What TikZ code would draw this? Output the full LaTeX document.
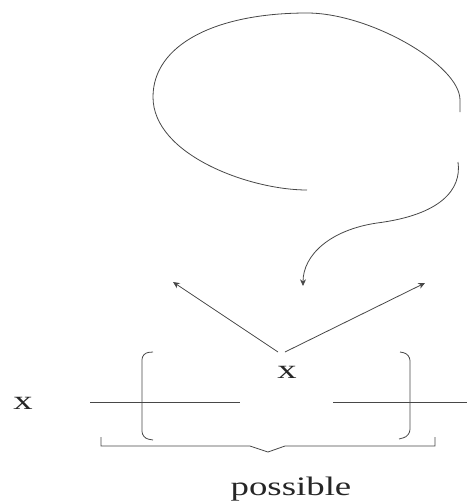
\documentclass[tikz,border=0pt]{standalone}
\usepackage{fontspec}
\setmainfont{Liberation Serif}
\usetikzlibrary{arrows.meta}
\begin{document}
\begin{tikzpicture}[x=0.75pt,y=-0.75pt,
  ln/.style={line width=0.6pt,draw=black!72},
  arr/.style={ln,-{Stealth[length=5pt,width=4.5pt]}},
  lbl/.style={inner sep=0pt,font=\fontsize{20}{24}\selectfont,text=black!85}]
\useasboundingbox (0,0) rectangle (469,504);
% thought bubble
\coordinate (bstart) at (460,112);
\coordinate (bend) at (307,190);
\draw[ln] (bstart) -- (460,100)
  .. controls (460,65) and (370,13) .. (307,13)
  .. controls (215,13) and (153,45) .. (153,97)
  .. controls (153,155) and (250,190) .. (bend);
% S-curve arrow
\coordinate (sstart) at (458,162);
\coordinate (smid) at (377,223);
\coordinate (stip) at (303,286);
\draw[arr] (sstart) .. controls (462,190) and (440,215) .. (smid)
  .. controls (330,230) and (303,255) .. (stip);
% central x and arrows
\node[lbl] (xtop) at (287,372) {\scalebox{1.45}[1]{x}};
\node[lbl] (xleft) at (23,403) {\scalebox{1.45}[1]{x}};
\node[lbl,anchor=base] (poss) at (291,495) {\scalebox{1.38}[1]{possible}};
\coordinate (vl) at (278,352);
\coordinate (vr) at (285,352);
\coordinate (tl) at (173,282);
\coordinate (tr) at (425,283);
\draw[arr] (vl) -- (tl);
\draw[arr] (vr) -- (tr);
% horizontal lines
\coordinate (hl1) at (90,402); \coordinate (hl2) at (240,402);
\coordinate (hr1) at (333,402); \coordinate (hr2) at (467,402);
\draw[ln] (hl1) -- (hl2);
\draw[ln] (hr1) -- (hr2);
% brackets
\draw[ln,rounded corners=5pt] (153,352) -- (142,353) -- (142,438) -- (153,440);
\draw[ln,rounded corners=5pt] (400,352) -- (410,354) -- (410,436) -- (399,439);
% under brace
\coordinate (bl) at (101,437); \coordinate (br) at (435,437);
\coordinate (btip) at (268,452);
\draw[ln] (bl) -- (101,446) -- (250,446) -- (btip) -- (285,446) -- (435,446) -- (br);
\end{tikzpicture}
\end{document}
